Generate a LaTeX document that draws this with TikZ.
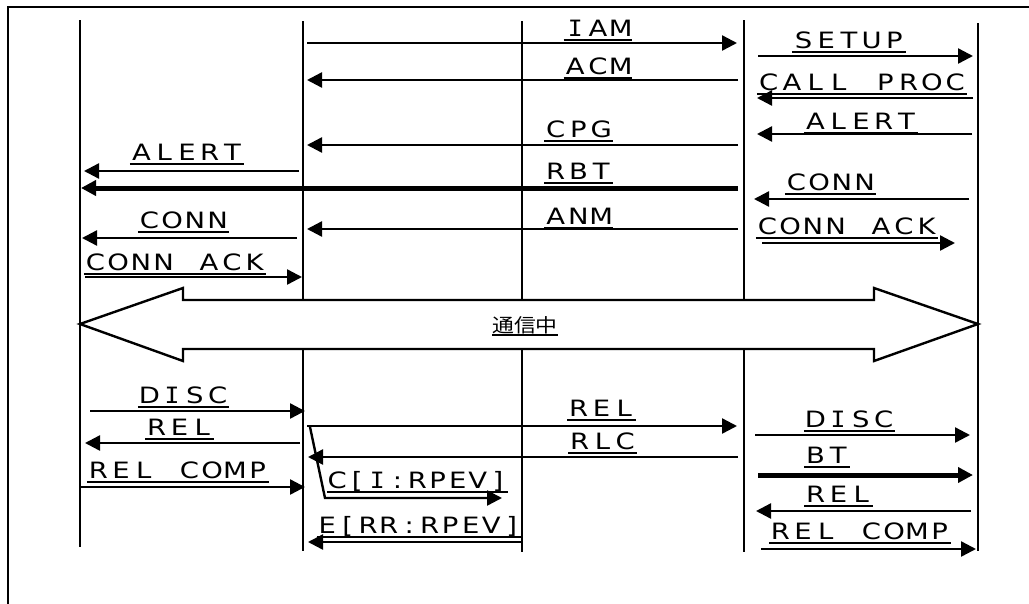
\documentclass[tikz,border=0pt]{standalone}
\usepackage{fontspec}
\usetikzlibrary{arrows.meta}
\newfontfamily\lblfont[FakeStretch=1.22]{DejaVu Sans}
\newfontfamily\monofnt[FakeStretch=1.1]{DejaVu Sans Mono}
\newfontfamily\cjkfont[FakeStretch=1.15]{Noto Sans CJK JP}
\makeatletter
\newcommand\cells[2][22.75pt]{\def\cl@w{#1}\@tfor\cl@c:=#2\do{\makebox[\cl@w][c]{\cl@c}}}
\makeatother
\newcommand\mI{{\monofnt I}}
\tikzset{
  lifeline/.style={line width=2.4pt},
  msg/.style={line width=2.4pt, -{Triangle[length=15pt,width=15pt]}},
  thickmsg/.style={line width=5pt, -{Triangle[length=15pt,width=15pt]}},
  lbl/.style={inner sep=0pt, anchor=base, yshift=4pt, font=\lblfont\fontsize{22.5}{26}\selectfont},
  uline/.style={line width=2.4pt},
  frameline/.style={line width=2.4pt},
  bigarrow/.style={line width=2.4pt, fill=white, line join=miter},
}
% \lab[pitch]{name}{centre x}{underline y}{text}
\newcommand\lab[5][22.75pt]{%
  \node[lbl] (#2) at (#3,#4) {\cells[#1]{#5}};
  \draw[uline] ([yshift=-4pt]#2.base west) -- ([yshift=-4pt]#2.base east);}
% \msgl[style]{name}{x start}{x end}{y}
\newcommand\msgl[5][msg]{%
  \coordinate (#2-s) at (#3,#5);
  \coordinate (#2-e) at (#4,#5);
  \draw[#1] (#2-s) -- (#2-e);}
\begin{document}
\begin{tikzpicture}[x=1pt,y=-1pt]
\useasboundingbox (0,0) rectangle (1029,603);
% frame
\coordinate (fbl) at (8,610);
\coordinate (ftl) at (8,7);
\coordinate (ftr) at (1040,7);
\draw[frameline] (fbl) -- (ftl) -- (ftr);
% lifelines
\foreach \n/\x/\a/\b in {1/80/20/547, 2/303/21/551, 3/522/21/552, 4/744/20/552, 5/978/23/551}{
  \coordinate (t\n) at (\x,\a);
  \coordinate (b\n) at (\x,\b);
  \draw[lifeline] (t\n) -- (b\n);
}
% middle messages
\msgl{iam}{307}{737}{43}
\msgl{acm}{738}{307}{80}
\msgl{cpg}{738}{307}{145}
\msgl[thickmsg]{rbt}{738}{81}{188}
\msgl{anm}{738}{307}{229}
% left messages
\msgl{alertL}{299}{84}{171}
\msgl{connL}{297}{82}{238}
\msgl{connackL}{85}{302}{277}
% right messages
\msgl{setup}{758}{973}{56}
\msgl{callproc}{973}{757}{98}
\msgl{alertR}{972}{757}{134}
\msgl{connR}{969}{754}{199}
\msgl{connackR}{762}{955}{243}
% labels top
\lab{lIAM}{598}{40}{\mI AM}
\lab{lACM}{598}{78}{ACM}
\lab{lCPG}{578.5}{141}{CPG}
\lab{lRBT}{578.5}{183}{RBT}
\lab{lANM}{578.5}{228}{ANM}
\lab{lALERTL}{187}{164}{ALERT}
\lab{lCONNL}{183.5}{232}{CONN}
\lab{lCONNACKL}{175}{274}{CONN~ACK}
\lab{lSETUP}{849}{52}{SETUP}
\lab[23.3pt]{lCALLPROC}{862}{94}{CALL~PROC}
\lab{lALERTR}{861}{133}{ALERT}
\lab{lCONNR}{830.5}{194}{CONN}
\lab{lCONNACKR}{847}{238}{CONN~ACK}
% big double arrow
\draw[bigarrow] (80,324) -- (183,288) -- (183,300) -- (874,300) -- (874,288) -- (978,324)
  -- (874,361) -- (874,349) -- (183,349) -- (183,361) -- cycle;
\node[inner sep=0pt, anchor=base, font=\cjkfont\fontsize{19}{24}\selectfont] (tsc) at (525,332) {通信中};
\draw[uline] ([yshift=-3pt]tsc.base west) -- ([yshift=-3pt]tsc.base east);
% bottom left
\msgl{discL}{90}{305}{411}
\msgl{relL}{300}{85}{443}
\msgl{relcompL}{81}{305}{487}
\lab{lDISCL}{183.5}{407}{D\mI SC}
\lab{lRELL}{179.5}{439}{REL}
\lab{lRELCOMPL}{178}{482}{REL~COMP}
% bottom middle
\msgl{relM}{307}{737}{426}
\msgl{rlc}{738}{308}{457}
\coordinate (cA) at (310,427);
\coordinate (cB) at (325,498);
\coordinate (cC) at (502,498);
\draw[msg] (cA) -- (cB) -- (cC);
\msgl{earr}{522}{308}{542}
\lab{lRELM}{601.5}{420}{REL}
\lab{lRLC}{602.5}{453}{RLC}
\lab[20.1pt]{lC}{417.5}{492}{C[\mI:RPEV]}
\lab[20.5pt]{lE}{419.5}{537}{E[RR:RPEV]}
% bottom right
\msgl{discR}{755}{970}{435}
\msgl[thickmsg]{bt}{758}{973}{475}
\msgl{relR}{971}{756}{511}
\msgl{relcompR}{761}{976}{549}
\lab{lDISCR}{849.5}{431}{D\mI SC}
\lab{lBT}{827}{467}{BT}
\lab{lRELR}{838.5}{506}{REL}
\lab{lRELCOMPR}{860}{543}{REL~COMP}
\end{tikzpicture}
\end{document}
